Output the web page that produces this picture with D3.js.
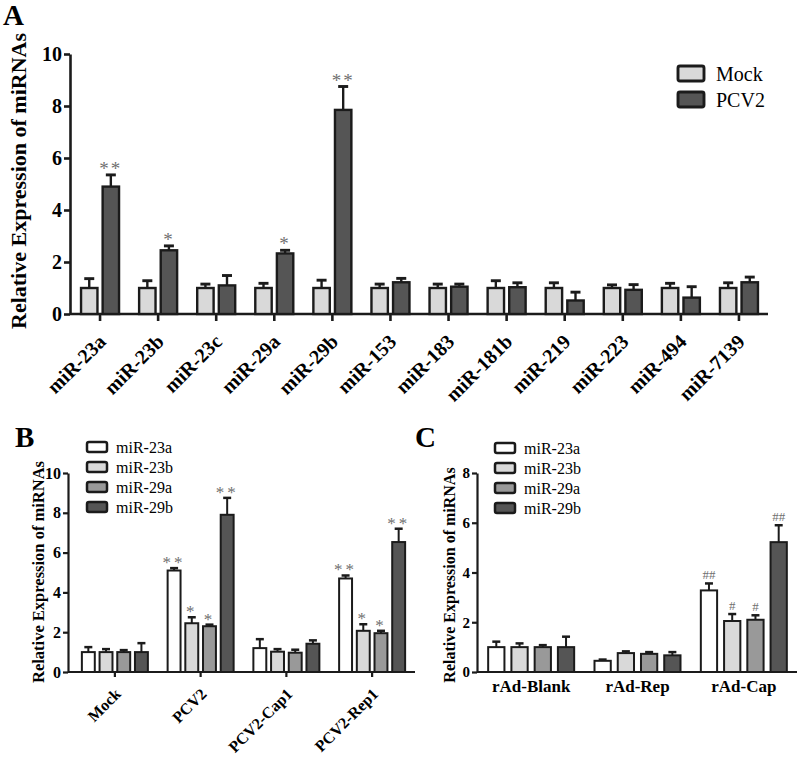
<!DOCTYPE html>
<html>
<head>
<meta charset="utf-8">
<script src="https://cdn.jsdelivr.net/npm/d3@7"></script>
<style>
  body { margin: 0; background: #fff; }
  svg { display: block; font-family: "Liberation Serif", "Times New Roman", serif; }
</style>
</head>
<body>
<svg id="chart"></svg>
<script>
// ---- Panel A data ----
const aCategories = ['miR-23a', 'miR-23b', 'miR-23c', 'miR-29a', 'miR-29b', 'miR-153',
                     'miR-183', 'miR-181b', 'miR-219', 'miR-223', 'miR-494', 'miR-7139'];
const aSeries = ['Mock', 'PCV2'];
const aMock = [1, 1, 1, 1, 1, 1, 1, 1, 1, 1, 1, 1];
const aMockErr = [0.36, 0.28, 0.15, 0.18, 0.3, 0.15, 0.15, 0.28, 0.2, 0.12, 0.18, 0.2];
const aPcv2 = [4.9, 2.45, 1.1, 2.33, 7.85, 1.22, 1.05, 1.03, 0.52, 0.93, 0.63, 1.22];
const aPcv2Err = [0.45, 0.17, 0.38, 0.12, 0.9, 0.15, 0.1, 0.17, 0.32, 0.2, 0.42, 0.2];
const aPcv2Sig = ['**', '*', '', '*', '**', '', '', '', '', '', '', ''];
const aYTicks = [0, 2, 4, 6, 8, 10];

// ---- Panel B data ----
const bGroups = ['Mock', 'PCV2', 'PCV2-Cap1', 'PCV2-Rep1'];
const bSeries = ['miR-23a', 'miR-23b', 'miR-29a', 'miR-29b'];
const b23a = [1.0, 5.1, 1.2, 4.7];
const b23aErr = [0.25, 0.12, 0.45, 0.15];
const b23b = [1.0, 2.45, 1.02, 2.07];
const b23bErr = [0.15, 0.3, 0.13, 0.33];
const b29a = [1.0, 2.3, 0.97, 1.95];
const b29aErr = [0.1, 0.08, 0.15, 0.12];
const b29b = [1.0, 7.9, 1.42, 6.53];
const b29bErr = [0.45, 0.85, 0.17, 0.67];
const bSig = [['', '**', '', '**'], ['', '*', '', '*'], ['', '*', '', '*'], ['', '**', '', '**']];
const bYTicks = [0, 2, 4, 6, 8, 10];

// ---- Panel C data ----
const cGroups = ['rAd-Blank', 'rAd-Rep', 'rAd-Cap'];
const cSeries = ['miR-23a', 'miR-23b', 'miR-29a', 'miR-29b'];
const c23a = [1.0, 0.45, 3.28];
const c23aErr = [0.22, 0.05, 0.28];
const c23b = [1.0, 0.76, 2.05];
const c23bErr = [0.15, 0.07, 0.28];
const c29a = [1.0, 0.73, 2.1];
const c29aErr = [0.08, 0.07, 0.18];
const c29b = [1.0, 0.67, 5.22];
const c29bErr = [0.42, 0.13, 0.68];
const cSig = [['', '', '##'], ['', '', '#'], ['', '', '#'], ['', '', '##']];
const cYTicks = [0, 2, 4, 6, 8];

const ink = '#1b1b1b';
const sigColor = '#707070';

const svg = d3.select('#chart').attr('width', 800).attr('height', 757);
svg.append('rect').attr('width', 800).attr('height', 757).attr('fill', '#fff');

// builds rows {group, series, value, err, sig}
function buildRows(groups, series, values, errs, sigs) {
    const rows = [];
    series.forEach((s, si) => {
        groups.forEach((g, gi) => {
            rows.push({ group: g, series: s, value: values[si][gi], err: errs[si][gi], sig: sigs[si][gi] });
        });
    });
    return rows;
}

function drawPanel(p) {
    const g = svg.append('g');
    const x = d3.scaleBand().domain(p.groups).range(p.xRange);
    const inner = d3.scaleBand().domain(p.series)
        .range([-p.groupWidth / 2, p.groupWidth / 2]).paddingInner(p.barPad);
    const y = d3.scaleLinear().domain(p.yDomain).range(p.yRange);
    const color = d3.scaleOrdinal().domain(p.series).range(p.colors);

    // y axis
    const yAxis = g.append('g')
        .attr('transform', `translate(${p.yAxisX},0)`)
        .call(d3.axisLeft(y).tickValues(p.yTicks).tickSize(p.tickLen).tickSizeOuter(0).tickPadding(2));
    yAxis.selectAll('path, line').attr('stroke', ink).attr('stroke-width', p.axisWidth);
    yAxis.selectAll('text')
        .attr('fill', '#000')
        .style('font-size', p.tickFont + 'px')
        .style('font-weight', 'bold')
        .style('font-family', '"Liberation Serif", "Times New Roman", serif');

    // x axis
    const xAxis = g.append('g')
        .attr('transform', `translate(0,${p.yRange[0]})`)
        .call(d3.axisBottom(x).tickSize(p.xTickLen).tickSizeOuter(0));
    xAxis.select('.domain').attr('d', `M${p.yAxisX},0H${p.xRange[1]}`);
    xAxis.selectAll('path, line').attr('stroke', ink).attr('stroke-width', p.axisWidth);
    const xt = xAxis.selectAll('text')
        .attr('fill', '#000')
        .attr('x', 0).attr('y', 0).attr('dy', 0)
        .style('font-size', p.xFont + 'px')
        .style('font-weight', 'bold')
        .style('font-family', '"Liberation Serif", "Times New Roman", serif');
    if (p.rotate) {
        xt.attr('text-anchor', 'end')
          .attr('transform', `translate(${p.labelDx},${p.labelDy}) rotate(-45)`);
    } else {
        xt.attr('text-anchor', 'middle').attr('y', p.labelDy);
    }

    // y axis title
    g.append('text')
        .attr('transform', `translate(${p.titleX},${p.titleY}) rotate(-90)`)
        .attr('text-anchor', 'middle')
        .style('font-size', p.titleFont + 'px')
        .style('font-weight', 'bold')
        .text('Relative Expression of miRNAs');

    // panel letter
    g.append('text')
        .attr('x', p.letterX).attr('y', p.letterY)
        .style('font-size', '29px')
        .style('font-weight', 'bold')
        .text(p.letter);

    // bars
    const bx = d => x(d.group) + x.bandwidth() / 2 + inner(d.series);
    const bw = inner.bandwidth();
    const bars = g.append('g');
    // error bars (upper half only, drawn under the bars)
    bars.selectAll('.err-line').data(p.rows).join('line')
        .attr('x1', d => bx(d) + bw / 2).attr('x2', d => bx(d) + bw / 2)
        .attr('y1', d => y(d.value)).attr('y2', d => y(d.value + d.err))
        .attr('stroke', ink).attr('stroke-width', p.barStroke);
    bars.selectAll('.err-cap').data(p.rows).join('line')
        .attr('x1', d => bx(d) + bw / 2 - p.capW / 2).attr('x2', d => bx(d) + bw / 2 + p.capW / 2)
        .attr('y1', d => y(d.value + d.err)).attr('y2', d => y(d.value + d.err))
        .attr('stroke', ink).attr('stroke-width', p.barStroke + 0.5);
    bars.selectAll('rect').data(p.rows).join('rect')
        .attr('x', bx)
        .attr('y', d => y(d.value))
        .attr('width', bw)
        .attr('height', d => y(0) - y(d.value))
        .attr('fill', d => color(d.series))
        .attr('stroke', ink)
        .attr('stroke-width', p.barStroke);

    // significance marks
    g.selectAll('.sig').data(p.rows.filter(d => d.sig)).join('text')
        .attr('x', d => bx(d) + bw / 2)
        .attr('y', d => y(d.value + d.err) + p.sigDy)
        .attr('text-anchor', 'middle')
        .attr('fill', sigColor)
        .style('font-size', p.sigFont + 'px')
        .style('letter-spacing', p.sigSpacing + 'px')
        .text(d => d.sig);

    // legend
    const lg = g.append('g');
    p.series.forEach((s, i) => {
        const ly = p.legendY + i * p.legendStep;
        lg.append('rect')
            .attr('x', p.legendX).attr('y', ly)
            .attr('width', p.legendBoxW).attr('height', p.legendBoxH)
            .attr('rx', 2)
            .attr('fill', color(s)).attr('stroke', ink).attr('stroke-width', p.barStroke + 0.5);
        lg.append('text')
            .attr('x', p.legendX + p.legendBoxW + p.legendGap)
            .attr('y', ly + p.legendBoxH / 2)
            .attr('dy', '0.35em')
            .style('font-size', p.legendFont + 'px')
            .text(s);
    });
}

// Panel A
drawPanel({
    letter: 'A', letterX: 3, letterY: 25,
    groups: aCategories, series: aSeries,
    rows: buildRows(aCategories, aSeries, [aMock, aPcv2], [aMockErr, aPcv2Err],
                    [aCategories.map(() => ''), aPcv2Sig]),
    colors: ['#d9d9d9', '#555555'],
    xRange: [71, 768], groupWidth: 38, barPad: 0.24,
    yDomain: [0, 10], yRange: [314, 54], yTicks: aYTicks, yAxisX: 70,
    tickLen: 6, xTickLen: 7, axisWidth: 2.6, tickFont: 20,
    rotate: true, xFont: 20, labelDx: 7, labelDy: 29,
    titleX: 26, titleY: 181, titleFont: 22,
    barStroke: 2.4, capW: 10,
    sigFont: 19, sigDy: 0, sigSpacing: 2,
    legendX: 678, legendY: 66, legendStep: 26, legendBoxW: 26, legendBoxH: 15, legendGap: 12, legendFont: 20
});

// Panel B
drawPanel({
    letter: 'B', letterX: 15, letterY: 447,
    groups: bGroups, series: bSeries,
    rows: buildRows(bGroups, bSeries, [b23a, b23b, b29a, b29b], [b23aErr, b23bErr, b29aErr, b29bErr], bSig),
    colors: ['#ffffff', '#d9d9d9', '#999999', '#555555'],
    xRange: [72, 415], groupWidth: 66, barPad: 0.27,
    yDomain: [0, 10], yRange: [672, 473], yTicks: bYTicks, yAxisX: 68,
    tickLen: 5, xTickLen: 5, axisWidth: 2.2, tickFont: 16,
    rotate: true, xFont: 16, labelDx: 7, labelDy: 23,
    titleX: 44, titleY: 572, titleFont: 16.5,
    barStroke: 2, capW: 8,
    sigFont: 17, sigDy: 0, sigSpacing: 3,
    legendX: 87, legendY: 442, legendStep: 20, legendBoxW: 20, legendBoxH: 10, legendGap: 9, legendFont: 16
});

// Panel C
drawPanel({
    letter: 'C', letterX: 415, letterY: 447,
    groups: cGroups, series: cSeries,
    rows: buildRows(cGroups, cSeries, [c23a, c23b, c29a, c29b], [c23aErr, c23bErr, c29aErr, c29bErr], cSig),
    colors: ['#ffffff', '#d9d9d9', '#999999', '#555555'],
    xRange: [478, 797], groupWidth: 86, barPad: 0.3,
    yDomain: [0, 8], yRange: [672, 473], yTicks: cYTicks, yAxisX: 477,
    tickLen: 5, xTickLen: 0, axisWidth: 2.2, tickFont: 15,
    rotate: false, xFont: 17, labelDx: 0, labelDy: 20,
    titleX: 455, titleY: 575, titleFont: 16,
    barStroke: 2, capW: 8,
    sigFont: 13, sigDy: -4, sigSpacing: 0,
    legendX: 495, legendY: 443, legendStep: 20, legendBoxW: 20, legendBoxH: 10, legendGap: 9, legendFont: 16
});
</script>
</body>
</html>
